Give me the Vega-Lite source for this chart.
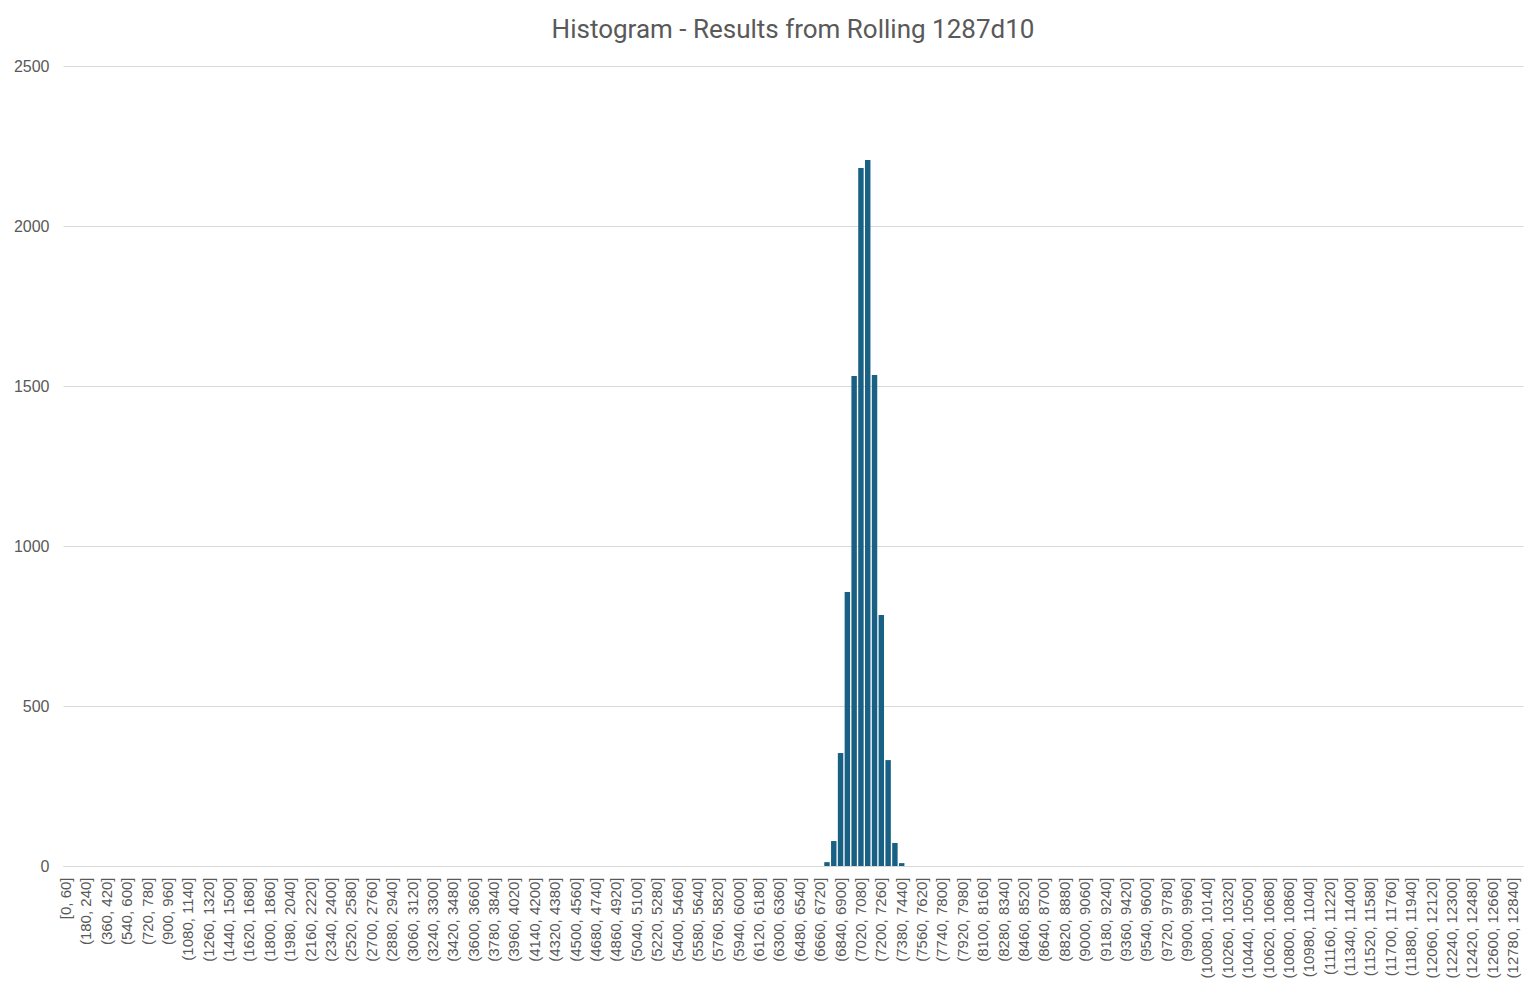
{
  "$schema": "https://vega.github.io/schema/vega-lite/v6.json",
  "title": {
    "text": "Histogram - Results from Rolling 1287d10",
    "anchor": "middle",
    "font": "Roboto, sans-serif",
    "fontSize": 26,
    "fontWeight": "normal",
    "color": "#595959",
    "offset": 15
  },
  "width": 1460,
  "height": 800,
  "autosize": "none",
  "padding": {"left": 63, "top": 66, "right": 15, "bottom": 142},
  "background": "#ffffff",
  "view": {"fill": "#ffffff", "stroke": null},
  "data": {
    "values": [
      {"lo": 0, "n": 0}, {"lo": 60, "n": 0}, {"lo": 120, "n": 0}, {"lo": 180, "n": 0}, {"lo": 240, "n": 0},
      {"lo": 300, "n": 0}, {"lo": 360, "n": 0}, {"lo": 420, "n": 0}, {"lo": 480, "n": 0}, {"lo": 540, "n": 0},
      {"lo": 600, "n": 0}, {"lo": 660, "n": 0}, {"lo": 720, "n": 0}, {"lo": 780, "n": 0}, {"lo": 840, "n": 0},
      {"lo": 900, "n": 0}, {"lo": 960, "n": 0}, {"lo": 1020, "n": 0}, {"lo": 1080, "n": 0}, {"lo": 1140, "n": 0},
      {"lo": 1200, "n": 0}, {"lo": 1260, "n": 0}, {"lo": 1320, "n": 0}, {"lo": 1380, "n": 0}, {"lo": 1440, "n": 0},
      {"lo": 1500, "n": 0}, {"lo": 1560, "n": 0}, {"lo": 1620, "n": 0}, {"lo": 1680, "n": 0}, {"lo": 1740, "n": 0},
      {"lo": 1800, "n": 0}, {"lo": 1860, "n": 0}, {"lo": 1920, "n": 0}, {"lo": 1980, "n": 0}, {"lo": 2040, "n": 0},
      {"lo": 2100, "n": 0}, {"lo": 2160, "n": 0}, {"lo": 2220, "n": 0}, {"lo": 2280, "n": 0}, {"lo": 2340, "n": 0},
      {"lo": 2400, "n": 0}, {"lo": 2460, "n": 0}, {"lo": 2520, "n": 0}, {"lo": 2580, "n": 0}, {"lo": 2640, "n": 0},
      {"lo": 2700, "n": 0}, {"lo": 2760, "n": 0}, {"lo": 2820, "n": 0}, {"lo": 2880, "n": 0}, {"lo": 2940, "n": 0},
      {"lo": 3000, "n": 0}, {"lo": 3060, "n": 0}, {"lo": 3120, "n": 0}, {"lo": 3180, "n": 0}, {"lo": 3240, "n": 0},
      {"lo": 3300, "n": 0}, {"lo": 3360, "n": 0}, {"lo": 3420, "n": 0}, {"lo": 3480, "n": 0}, {"lo": 3540, "n": 0},
      {"lo": 3600, "n": 0}, {"lo": 3660, "n": 0}, {"lo": 3720, "n": 0}, {"lo": 3780, "n": 0}, {"lo": 3840, "n": 0},
      {"lo": 3900, "n": 0}, {"lo": 3960, "n": 0}, {"lo": 4020, "n": 0}, {"lo": 4080, "n": 0}, {"lo": 4140, "n": 0},
      {"lo": 4200, "n": 0}, {"lo": 4260, "n": 0}, {"lo": 4320, "n": 0}, {"lo": 4380, "n": 0}, {"lo": 4440, "n": 0},
      {"lo": 4500, "n": 0}, {"lo": 4560, "n": 0}, {"lo": 4620, "n": 0}, {"lo": 4680, "n": 0}, {"lo": 4740, "n": 0},
      {"lo": 4800, "n": 0}, {"lo": 4860, "n": 0}, {"lo": 4920, "n": 0}, {"lo": 4980, "n": 0}, {"lo": 5040, "n": 0},
      {"lo": 5100, "n": 0}, {"lo": 5160, "n": 0}, {"lo": 5220, "n": 0}, {"lo": 5280, "n": 0}, {"lo": 5340, "n": 0},
      {"lo": 5400, "n": 0}, {"lo": 5460, "n": 0}, {"lo": 5520, "n": 0}, {"lo": 5580, "n": 0}, {"lo": 5640, "n": 0},
      {"lo": 5700, "n": 0}, {"lo": 5760, "n": 0}, {"lo": 5820, "n": 0}, {"lo": 5880, "n": 0}, {"lo": 5940, "n": 0},
      {"lo": 6000, "n": 0}, {"lo": 6060, "n": 0}, {"lo": 6120, "n": 0}, {"lo": 6180, "n": 0}, {"lo": 6240, "n": 0},
      {"lo": 6300, "n": 0}, {"lo": 6360, "n": 0}, {"lo": 6420, "n": 0}, {"lo": 6480, "n": 0}, {"lo": 6540, "n": 0},
      {"lo": 6600, "n": 0}, {"lo": 6660, "n": 0}, {"lo": 6720, "n": 12}, {"lo": 6780, "n": 78}, {"lo": 6840, "n": 353},
      {"lo": 6900, "n": 856}, {"lo": 6960, "n": 1531}, {"lo": 7020, "n": 2181}, {"lo": 7080, "n": 2206}, {"lo": 7140, "n": 1534},
      {"lo": 7200, "n": 784}, {"lo": 7260, "n": 331}, {"lo": 7320, "n": 72}, {"lo": 7380, "n": 9}, {"lo": 7440, "n": 0},
      {"lo": 7500, "n": 0}, {"lo": 7560, "n": 0}, {"lo": 7620, "n": 0}, {"lo": 7680, "n": 0}, {"lo": 7740, "n": 0},
      {"lo": 7800, "n": 0}, {"lo": 7860, "n": 0}, {"lo": 7920, "n": 0}, {"lo": 7980, "n": 0}, {"lo": 8040, "n": 0},
      {"lo": 8100, "n": 0}, {"lo": 8160, "n": 0}, {"lo": 8220, "n": 0}, {"lo": 8280, "n": 0}, {"lo": 8340, "n": 0},
      {"lo": 8400, "n": 0}, {"lo": 8460, "n": 0}, {"lo": 8520, "n": 0}, {"lo": 8580, "n": 0}, {"lo": 8640, "n": 0},
      {"lo": 8700, "n": 0}, {"lo": 8760, "n": 0}, {"lo": 8820, "n": 0}, {"lo": 8880, "n": 0}, {"lo": 8940, "n": 0},
      {"lo": 9000, "n": 0}, {"lo": 9060, "n": 0}, {"lo": 9120, "n": 0}, {"lo": 9180, "n": 0}, {"lo": 9240, "n": 0},
      {"lo": 9300, "n": 0}, {"lo": 9360, "n": 0}, {"lo": 9420, "n": 0}, {"lo": 9480, "n": 0}, {"lo": 9540, "n": 0},
      {"lo": 9600, "n": 0}, {"lo": 9660, "n": 0}, {"lo": 9720, "n": 0}, {"lo": 9780, "n": 0}, {"lo": 9840, "n": 0},
      {"lo": 9900, "n": 0}, {"lo": 9960, "n": 0}, {"lo": 10020, "n": 0}, {"lo": 10080, "n": 0}, {"lo": 10140, "n": 0},
      {"lo": 10200, "n": 0}, {"lo": 10260, "n": 0}, {"lo": 10320, "n": 0}, {"lo": 10380, "n": 0}, {"lo": 10440, "n": 0},
      {"lo": 10500, "n": 0}, {"lo": 10560, "n": 0}, {"lo": 10620, "n": 0}, {"lo": 10680, "n": 0}, {"lo": 10740, "n": 0},
      {"lo": 10800, "n": 0}, {"lo": 10860, "n": 0}, {"lo": 10920, "n": 0}, {"lo": 10980, "n": 0}, {"lo": 11040, "n": 0},
      {"lo": 11100, "n": 0}, {"lo": 11160, "n": 0}, {"lo": 11220, "n": 0}, {"lo": 11280, "n": 0}, {"lo": 11340, "n": 0},
      {"lo": 11400, "n": 0}, {"lo": 11460, "n": 0}, {"lo": 11520, "n": 0}, {"lo": 11580, "n": 0}, {"lo": 11640, "n": 0},
      {"lo": 11700, "n": 0}, {"lo": 11760, "n": 0}, {"lo": 11820, "n": 0}, {"lo": 11880, "n": 0}, {"lo": 11940, "n": 0},
      {"lo": 12000, "n": 0}, {"lo": 12060, "n": 0}, {"lo": 12120, "n": 0}, {"lo": 12180, "n": 0}, {"lo": 12240, "n": 0},
      {"lo": 12300, "n": 0}, {"lo": 12360, "n": 0}, {"lo": 12420, "n": 0}, {"lo": 12480, "n": 0}, {"lo": 12540, "n": 0},
      {"lo": 12600, "n": 0}, {"lo": 12660, "n": 0}, {"lo": 12720, "n": 0}, {"lo": 12780, "n": 0}, {"lo": 12840, "n": 0}
    ]
  },
  "mark": {"type": "bar", "color": "#196184"},
  "encoding": {
    "x": {
      "field": "lo",
      "type": "ordinal",
      "sort": null,
      "scale": {"paddingInner": 0.2, "paddingOuter": 0.05},
      "axis": {
        "title": null,
        "labelExpr": "datum.value % 180 != 0 ? '' : (datum.value == 0 ? '[0, 60]' : '(' + datum.value + ', ' + (datum.value + 60) + ']')",
        "labelAngle": -90,
        "labelOverlap": false,
        "labelFont": "Liberation Sans, Arial, sans-serif",
        "labelFontSize": 15,
        "labelColor": "#595959",
        "labelPadding": 11,
        "ticks": false,
        "domainColor": "#d9d9d9",
        "domainWidth": 1,
        "grid": false
      }
    },
    "y": {
      "field": "n",
      "type": "quantitative",
      "scale": {"domain": [0, 2500]},
      "axis": {
        "title": null,
        "format": "d",
        "values": [0, 500, 1000, 1500, 2000, 2500],
        "labelFont": "Liberation Sans, Arial, sans-serif",
        "labelFontSize": 16,
        "labelColor": "#595959",
        "labelPadding": 14,
        "ticks": false,
        "domain": false,
        "grid": true,
        "gridColor": "#d9d9d9",
        "gridWidth": 1
      }
    }
  },
  "config": {}
}
